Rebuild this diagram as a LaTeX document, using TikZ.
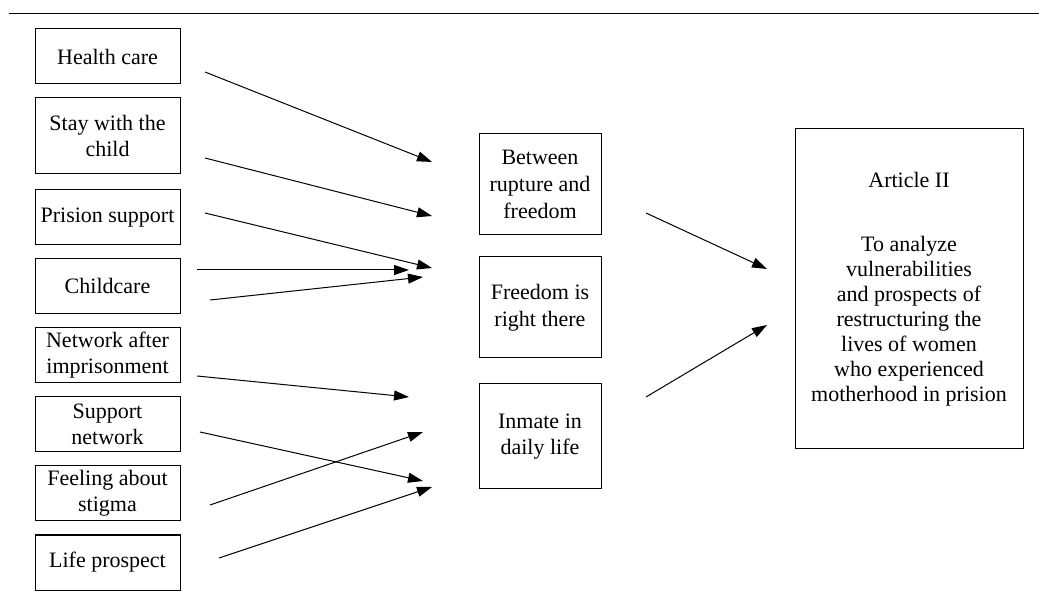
\documentclass[tikz,border=0pt]{standalone}
\usepackage{fontspec}
\setmainfont{Liberation Serif}
\usetikzlibrary{arrows.meta,positioning}

\begin{document}
\begin{tikzpicture}[x=0.5pt,y=-0.5pt,
  font=\fontsize{11}{13}\selectfont,
  theme/.style={draw,line width=0.5pt,minimum width=72.5pt,minimum height=27.5pt,
                inner xsep=1.5pt,inner ysep=1pt,align=center},
  category/.style={draw,line width=0.5pt,minimum width=61pt,minimum height=50.5pt,
                inner xsep=2pt,align=center,font=\fontsize{11}{13.3}\selectfont},
  goal/.style={draw,line width=0.5pt,minimum width=114pt,minimum height=160pt,
               align=center,font=\fontsize{11}{12.5}\selectfont},
  arr/.style={line width=0.5pt,-{Triangle[length=7.5pt,width=5pt]}}]
\useasboundingbox (0,0) rectangle (1039,598);
\draw[line width=0.75pt] (9,13.5) -- (1039,13.5);

% themes
\node[theme] (hc)       at (107.5,56.5)  {Health care};
\node[theme,minimum height=38pt] (stay) at (107.5,136) {Stay with the\\child};
\node[theme] (pris)     at (107.5,217.5) {Prision support};
\node[theme] (child)    at (107.5,286)   {Childcare};
\node[theme] (netafter) at (107.5,355)   {Network after\\imprisonment};
\node[theme] (suppnet)  at (107.5,424.5) {Support\\network};
\node[theme] (stigma)   at (107.5,493.5) {Feeling about\\stigma};
\node[theme] (life)     at (107.5,562.5) {Life prospect};

% categories
\node[category] (rupture) at (540,184.5) {Between\\rupture and\\freedom};
\node[category] (freedom) at (540,307.5) {Freedom is\\right there};
\node[category,minimum height=52.5pt] (inmate) at (540,436.5) {Inmate in\\daily life};

% article
\node[goal] (article) at (909,289) {Article II\\[19.5pt]To analyze\\vulnerabilities\\and prospects of\\
  restructuring the\\lives of women\\who experienced\\motherhood in prision};

% arrow ends
\coordinate (hc-s) at (205,72);        \coordinate (hc-t) at (432,162);
\coordinate (stay-s) at (205,158);     \coordinate (stay-t) at (432,216);
\coordinate (pris-s) at (205,213);     \coordinate (pris-t) at (432,268);
\coordinate (childa-s) at (197,270);   \coordinate (childa-t) at (409,270);
\coordinate (childb-s) at (210,300);   \coordinate (childb-t) at (423,277);
\coordinate (netafter-s) at (197,376); \coordinate (netafter-t) at (409,397);
\coordinate (suppnet-s) at (200,432);  \coordinate (suppnet-t) at (423,481);
\coordinate (stigma-s) at (210,505);   \coordinate (stigma-t) at (423,432);
\coordinate (life-s) at (219,558);     \coordinate (life-t) at (432,487);
\coordinate (rupture-s) at (646,213);  \coordinate (rupture-t) at (767,269);
\coordinate (inmate-s) at (646,397);   \coordinate (inmate-t) at (767,325);

\foreach \n in {hc,stay,pris,childa,childb,netafter,suppnet,stigma,life,rupture,inmate}
  \draw[arr] (\n-s) -- (\n-t);
\end{tikzpicture}
\end{document}
